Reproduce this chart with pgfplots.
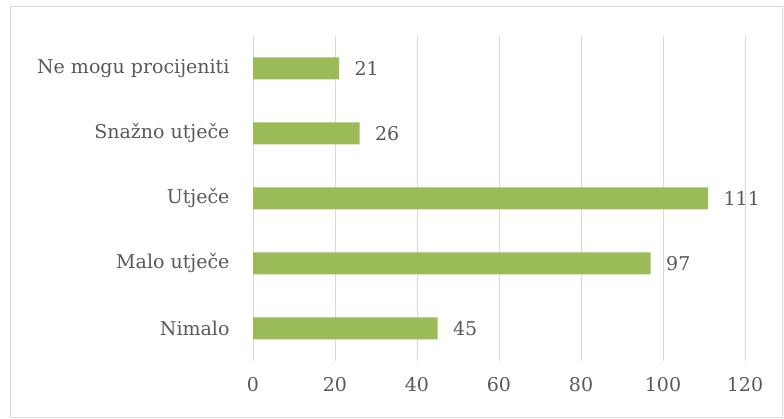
\documentclass[border=0pt]{standalone}
\usepackage{fontspec}
\setmainfont{DejaVu Serif}
\usepackage{pgfplots}
\pgfplotsset{compat=1.18}
\definecolor{bargreen}{HTML}{9BBB59}
\definecolor{txt}{HTML}{595959}
\definecolor{gridc}{HTML}{D9D9D9}
\begin{document}
\begin{tikzpicture}
\useasboundingbox (0pt,0pt) rectangle (784pt,419pt);
\draw[gridc, line width=1pt] (10pt,1.5pt) rectangle (782.5pt,412pt);
\begin{axis}[
  at={(253pt,58pt)}, anchor=south west,
  scale only axis, width=492pt, height=325pt,
  xbar, bar width=22pt,
  xmin=0, xmax=120, xtick={0,20,...,120},
  ymin=-0.5, ymax=4.5, ytick={0,1,2,3,4},
  yticklabels={Nimalo, Malo utječe, Utječe, Snažno utječe, Ne mogu procijeniti},
  major tick length=0pt,
  xmajorgrids, grid style={gridc, line width=1pt},
  axis x line*=bottom, axis y line*=left,
  x axis line style={draw=none},
  y axis line style={draw=gridc, line width=1pt, -},
  tick label style={font=\fontsize{19}{23}\selectfont, text=txt},
  xticklabel style={yshift=-13pt},
  yticklabel style={xshift=-20pt},
  /pgf/number format/assume math mode=true,
  nodes near coords,
  nodes near coords style={font=\fontsize{19}{23}\selectfont, text=txt, anchor=west, xshift=12pt},
  clip=false,
]
\addplot[fill=bargreen, draw=none] coordinates {(45,0) (97,1) (111,2) (26,3) (21,4)};
\end{axis}
\end{tikzpicture}
\end{document}
